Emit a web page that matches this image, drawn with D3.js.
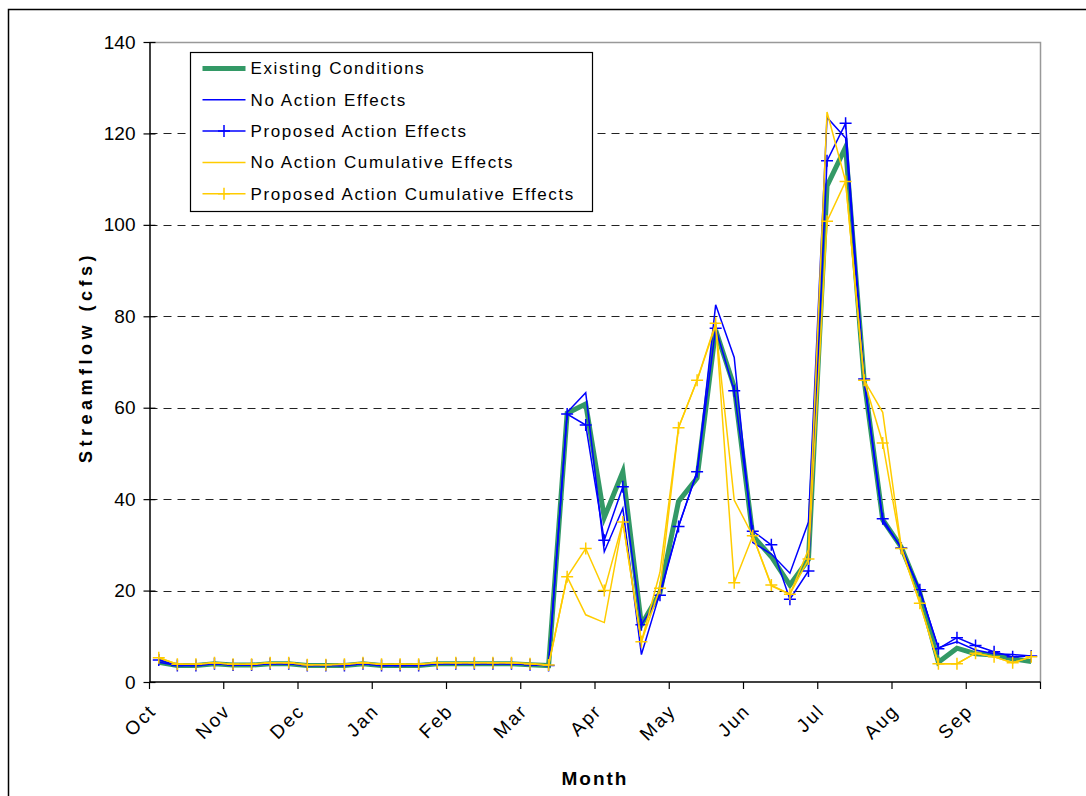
<!DOCTYPE html>
<html>
<head>
<meta charset="utf-8">
<script src="https://cdnjs.cloudflare.com/ajax/libs/d3/7.8.5/d3.min.js"></script>
<style>
    body { margin: 0; background: #fff; }
    text { font-family: "Liberation Sans", Arial, sans-serif; }
</style>
</head>
<body>
<div id="chart"></div>
<script>
// 4 readings per month, Oct -> Sep
const months = ["Oct", "Nov", "Dec", "Jan", "Feb", "Mar", "Apr", "May", "Jun", "Jul", "Aug", "Sep"];
const yTicks = [0, 20, 40, 60, 80, 100, 120, 140];

const lowFlow = [4.3, 3.6, 3.6, 4.0, 3.7, 3.7, 4.0, 4.0, 3.6, 3.6, 3.6, 4.0,
                 3.6, 3.6, 3.6, 4.0, 4.0, 4.0, 4.0, 4.0, 3.8, 3.6];

const existing = lowFlow.concat([58.8, 60.8, 36, 46, 12.5, 19.5, 39.5, 44.6, 77, 64.6, 32, 27.4,
                 21.2, 26.8, 108.5, 117, 66, 35.5, 29.5, 19.5, 4.3, 7.4, 6.2, 5.9, 5.1, 4.5]);

const noAction = lowFlow.concat([59, 63.3, 28.5, 38, 6, 19.5, 34, 46, 82.5, 71, 30.5, 28,
                 23.8, 35, 123.5, 119, 66, 35, 29.5, 20, 7.5, 8.8, 7, 6.2, 6, 5.7]);

const proposed = [4.8].concat(lowFlow.slice(1), [58.6, 56.2, 31, 42.7, 12.5, 19, 34, 46, 77.4, 63.7, 33, 30,
                 18.1, 24.3, 114, 122.2, 66.3, 35.7, 29.3, 20.2, 7.3, 9.7, 8, 6.6, 5.5, 5.7]);

const lowFlowCum = [5.3, 3.9, 3.9, 4.2, 3.9, 3.9, 4.2, 4.2, 3.8, 3.8, 3.9, 4.2,
                    3.9, 3.9, 3.9, 4.2, 4.2, 4.2, 4.2, 4.2, 4.0, 3.7];

const noActionCum = lowFlowCum.concat([23, 14.7, 13, 35, 8.8, 24, 55.7, 66, 78, 39.8, 32, 21,
                 19.2, 29, 124.7, 109.5, 66, 59, 29.5, 17.2, 4, 4, 6.3, 5.5, 4.2, 5.5]);

const proposedCum = lowFlowCum.concat([23, 29.2, 20, 35, 8.8, 20.5, 55.6, 66, 78.5, 21.7, 32, 21.2,
                 19.2, 26.9, 100.8, 109.5, 66, 52.3, 29.2, 17.2, 4, 4, 6.3, 5.5, 4.2, 5.5]);

const seriesNames = ["Existing Conditions", "No Action Effects", "Proposed Action Effects",
                     "No Action Cumulative Effects", "Proposed Action Cumulative Effects"];

const series = [
    {name: seriesNames[0], values: existing, color: "#339966", width: 5, marker: false},
    {name: seriesNames[1], values: noAction, color: "#0000ff", width: 1.5, marker: false},
    {name: seriesNames[2], values: proposed, color: "#0000ff", width: 1.5, marker: true},
    {name: seriesNames[3], values: noActionCum, color: "#ffcc00", width: 1.5, marker: false},
    {name: seriesNames[4], values: proposedCum, color: "#ffcc00", width: 1.5, marker: true}
];

const width = 1086, height = 796;
const margin = {top: 42, right: 45.5, bottom: 114, left: 149.5};
const innerW = width - margin.left - margin.right;
const innerH = height - margin.top - margin.bottom;

const svg = d3.select("#chart").append("svg")
    .attr("width", width)
    .attr("height", height);

// outer frame (left + top edges visible)
svg.append("path")
    .attr("d", `M8.5,${height} V9.5 H${width}`)
    .attr("fill", "none")
    .attr("stroke", "#000")
    .attr("stroke-width", 1.5);

const g = svg.append("g")
    .attr("transform", `translate(${margin.left},${margin.top})`);

const nPts = existing.length;
const x = d3.scaleBand()
    .domain(d3.range(nPts))
    .range([0, innerW]);

const xMonth = d3.scaleBand()
    .domain(months)
    .range([0, innerW]);

const y = d3.scaleLinear()
    .domain([0, 140])
    .range([innerH, 0]);

// gridlines
g.append("g")
    .selectAll("line")
    .data(yTicks.filter(d => d > 0 && d < 140))
    .enter().append("line")
    .attr("x1", 0)
    .attr("x2", innerW)
    .attr("y1", d => Math.round(y(d)) + 0.5)
    .attr("y2", d => Math.round(y(d)) + 0.5)
    .attr("stroke", "#222")
    .attr("stroke-width", 1)
    .attr("stroke-dasharray", "8,6");

// plot border top/right
g.append("path")
    .attr("d", `M0,0.5 H${innerW} V${innerH}`)
    .attr("fill", "none")
    .attr("stroke", "#999")
    .attr("stroke-width", 1.5);

// y axis
const yAxis = g.append("g")
    .call(d3.axisLeft(y).tickValues(yTicks).tickSize(0).tickPadding(14));
yAxis.select(".domain").attr("stroke", "#000").attr("stroke-width", 1.5);
yAxis.selectAll(".tick text")
    .attr("font-size", "19px")
    .attr("fill", "#000");
yAxis.selectAll(".tick").append("line")
    .attr("x1", -6).attr("x2", 6)
    .attr("stroke", "#000").attr("stroke-width", 1.2);

// x axis
const xAxis = g.append("g")
    .attr("transform", `translate(0,${innerH})`);
xAxis.append("line")
    .attr("x1", 0).attr("x2", innerW)
    .attr("stroke", "#000").attr("stroke-width", 1.5);
const monthEdges = months.map(m => xMonth(m)).concat([innerW]);
xAxis.selectAll(".xtick")
    .data(monthEdges)
    .enter().append("line")
    .attr("class", "xtick")
    .attr("x1", d => d).attr("x2", d => d)
    .attr("y1", 0).attr("y2", 7)
    .attr("stroke", "#000").attr("stroke-width", 1.2);
xAxis.selectAll(".xlabel")
    .data(months)
    .enter().append("text")
    .attr("class", "xlabel")
    .attr("transform", d => `translate(${xMonth(d) + 8},${30}) rotate(-45)`)
    .attr("text-anchor", "end")
    .attr("font-size", "19px")
    .attr("letter-spacing", "2px")
    .text(d => d);

// axis titles
g.append("text")
    .attr("x", innerW / 2)
    .attr("y", innerH + 103)
    .attr("text-anchor", "middle")
    .attr("font-size", "19px")
    .attr("font-weight", "bold")
    .attr("letter-spacing", "2px")
    .text("Month");

g.append("text")
    .attr("transform", `translate(${-58},${innerH / 2 - 5}) rotate(-90)`)
    .attr("text-anchor", "middle")
    .attr("font-size", "18px")
    .attr("font-weight", "bold")
    .attr("letter-spacing", "4.5px")
    .text("Streamflow (cfs)");

// series lines
const line = d3.line()
    .x((d, i) => x(i) + x.bandwidth() / 2)
    .y(d => y(d));

series.forEach(s => {
    g.append("path")
        .datum(s.values)
        .attr("fill", "none")
        .attr("stroke", s.color)
        .attr("stroke-width", s.width)
        .attr("stroke-linejoin", "miter")
        .attr("d", line);

    if (s.marker) {
        g.append("g")
            .selectAll("path")
            .data(s.values)
            .enter().append("path")
            .attr("d", "M-6,0H6M0,-6V6")
            .attr("transform", (d, i) => `translate(${x(i) + x.bandwidth() / 2},${y(d)})`)
            .attr("stroke", s.color)
            .attr("stroke-width", 1.5);
    }
});

// legend
const legend = svg.append("g")
    .attr("transform", "translate(190.5,52.5)");
legend.append("rect")
    .attr("width", 402)
    .attr("height", 159)
    .attr("fill", "#fff")
    .attr("stroke", "#000")
    .attr("stroke-width", 1.2);

series.forEach((s, i) => {
    const item = legend.append("g")
        .attr("transform", `translate(0,${16 + i * 31.3})`);
    item.append("line")
        .attr("x1", 12).attr("x2", 55)
        .attr("stroke", s.color)
        .attr("stroke-width", s.width);
    if (s.marker) {
        item.append("path")
            .attr("d", "M-6,0H6M0,-6V6")
            .attr("transform", "translate(33.5,0)")
            .attr("stroke", s.color)
            .attr("stroke-width", 1.5);
    }
    item.append("text")
        .attr("x", 60)
        .attr("dy", "0.35em")
        .attr("font-size", "17px")
        .attr("letter-spacing", "1.6px")
        .text(s.name);
});
</script>
</body>
</html>
